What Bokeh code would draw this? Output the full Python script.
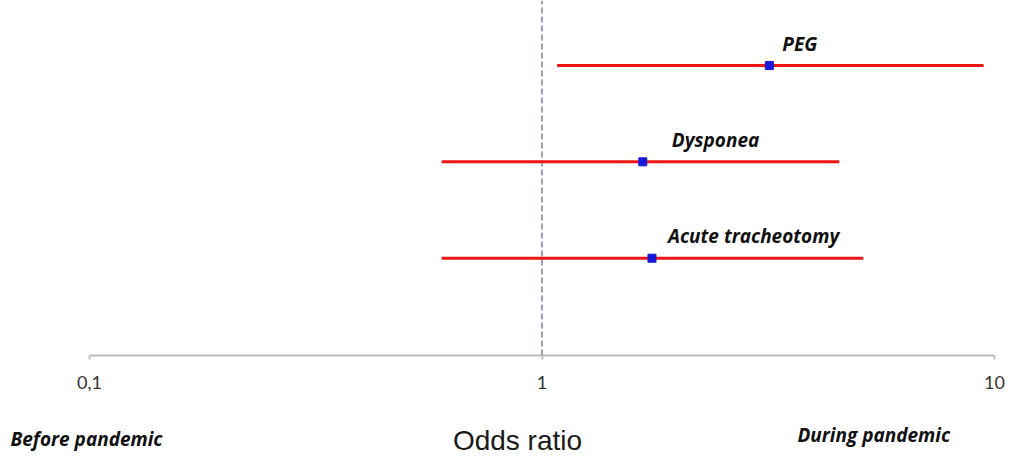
from bokeh.plotting import figure
from bokeh.models import Label, FixedTicker, ColumnDataSource, Range1d
from bokeh.core.properties import value
from bokeh.embed import file_html
from bokeh.resources import INLINE

# data
outcomes = ["PEG", "Dysponea", "Acute tracheotomy"]
odds_ratio = [3.18, 1.67, 1.75]
ci_low = [1.08, 0.60, 0.60]
ci_high = [9.46, 4.54, 5.13]
rows = [3, 2, 1]
label_dx = [13, 29, 16]
tick_values = [0.1, 1, 10]
tick_labels = ["0,1", "1", "10"]
null_value = 1

src = ColumnDataSource(dict(name=outcomes, orr=odds_ratio, lo=ci_low, hi=ci_high,
                            y=rows, dx=label_dx))

W, H = 1006, 460
AXIS_Y = -0.0099
Y_TOP = 3.675
p = figure(width=W, height=H, x_axis_type="log", output_backend="svg",
           toolbar_location=None, x_range=Range1d(0.06357, 10.63), y_range=Range1d(-1.0996, Y_TOP),
           min_border_left=0, min_border_right=0, min_border_top=0, min_border_bottom=0)
p.outline_line_color = None
p.grid.visible = False
p.yaxis.visible = False
p.background_fill_color = "white"
p.border_fill_color = "white"

ax = p.xaxis[0]
ax.fixed_location = AXIS_Y
ax.ticker = FixedTicker(ticks=tick_values, minor_ticks=[])
ax.major_label_overrides = {tick_values[i]: tick_labels[i] for i in range(3)}
ax.axis_line_color = None
ax.major_tick_line_color = "#bdbdbd"
ax.major_tick_line_width = 2
ax.major_tick_out = 4
ax.major_tick_in = 0
ax.minor_tick_line_color = None
ax.major_label_standoff = 16
ax.major_label_text_font = "Lato"
ax.major_label_text_font_size = "18px"
ax.major_label_text_color = "#333333"

# axis line between the first and last tick
p.segment(x0=[tick_values[0]], x1=[tick_values[-1]], y0=[AXIS_Y], y1=[AXIS_Y],
          line_color="#bdbdbd", line_width=2)

# reference line at OR = 1, from the axis to the top
p.segment(x0=[null_value], x1=[null_value], y0=[AXIS_Y], y1=[Y_TOP], line_color="#9a9ec8",
          line_width=2, line_dash="6 3")

p.segment(x0="lo", x1="hi", y0="y", y1="y", source=src, line_color="#ee1515", line_width=3)
p.scatter(x="orr", y="y", source=src, marker="square", size=8, fill_color="#1818d8",
          line_color="#1818d8")
p.text(x="orr", y="y", text="name", source=src, x_offset="dx", y_offset=-22,
       text_font=value("Open Sans"), text_font_style="bold italic", text_font_size="19px",
       text_baseline="middle", text_align="left", text_color="#111111")

p.add_layout(Label(x=517, y=H - 440, x_units="screen", y_units="screen", text="Odds ratio",
                   text_font="Liberation Sans", text_font_size="28px", text_align="center",
                   text_baseline="middle", text_color="#1a1a1a"))
p.add_layout(Label(x=10, y=H - 438, x_units="screen", y_units="screen", text="Before pandemic",
                   text_font="Open Sans", text_font_style="bold italic", text_font_size="19px",
                   text_baseline="middle", text_color="#111111"))
p.add_layout(Label(x=797, y=H - 434, x_units="screen", y_units="screen", text="During pandemic",
                   text_font="Open Sans", text_font_style="bold italic", text_font_size="19px",
                   text_baseline="middle", text_color="#111111"))

open("out.html", "w").write(file_html(p, INLINE))
